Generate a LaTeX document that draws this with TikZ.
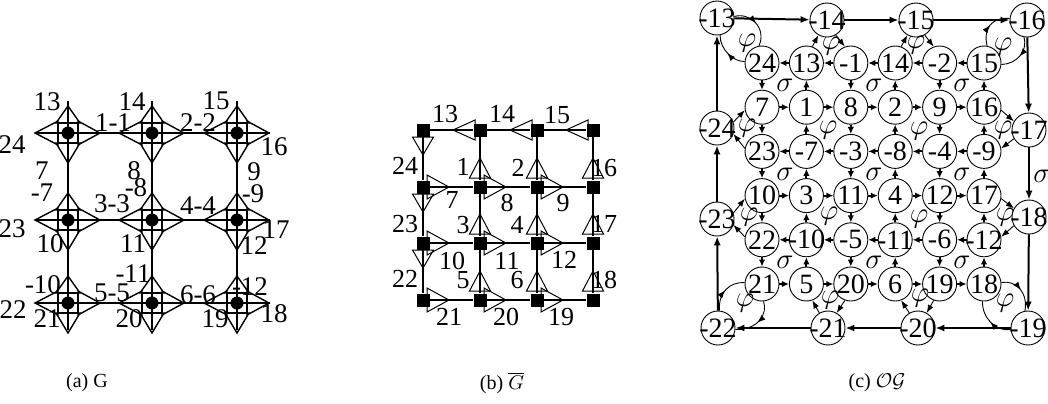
\documentclass[tikz,border=0pt]{standalone}
\usepackage{fontspec}
\setmainfont{Liberation Serif}
\usetikzlibrary{arrows.meta,decorations.markings}
\begin{document}
\begin{tikzpicture}[x=0.5pt,y=-0.5pt,
  lab/.style={inner sep=0pt, font=\fontsize{13.5}{15}\selectfont},
  labb/.style={inner sep=0pt, font=\fontsize{13}{15}\selectfont},
  capt/.style={inner sep=0pt, font=\fontsize{10}{12}\selectfont},
  edgeA/.style={line width=1pt},
  triA/.style={line width=0.7pt},
  vdot/.style={circle, fill=black, minimum size=6.5pt, inner sep=0pt},
  vbox/.style={draw, line width=0.7pt, minimum size=10pt, inner sep=0pt},
  sqB/.style={fill=black, minimum size=6.5pt, inner sep=0pt},
  thinB/.style={line width=0.55pt},
  thickB/.style={line width=1pt},
  triB/.style={line width=0.5pt},
  cn/.style={circle, draw, line width=0.45pt, minimum size=17pt, inner sep=0pt, font=\fontsize{14}{15}\selectfont},
  gar/.style={line width=1pt, -{Latex[length=3.5pt,width=3.2pt]}},
  rar/.style={line width=1pt, -{Latex[length=4.5pt,width=3.6pt]}},
  far/.style={line width=0.45pt, -{Latex[length=4pt,width=3pt]}},
  mar/.style={line width=0.45pt, postaction={decorate}, decoration={markings, mark=at position 0.5 with {\arrow{Latex[length=4pt,width=3pt]}}}},
  gl/.style={inner sep=0pt, font=\fontsize{14}{15}\selectfont},
]
\useasboundingbox (0,0) rectangle (1048,403);

% ---------------- panel (a) ----------------
\foreach \r/\y in {0/133,1/220,2/303} {
  \coordinate (aL\r) at (35,\y); \coordinate (aR\r) at (270,\y);
  \draw[edgeA] (aL\r) -- (aR\r);
}
\foreach \c/\x in {0/68,1/152,2/237} {
  \coordinate (aT\c) at (\x,101); \coordinate (aB\c) at (\x,330);
  \draw[edgeA] (aT\c) -- (aB\c);
}
\foreach \c/\x in {0/68,1/152,2/237} \foreach \r/\y in {0/133,1/220,2/303} {
  \node[vbox] (av\r\c) at (\x,\y) {};
  \node[vdot] (ad\r\c) at (\x,\y) {};
  \draw[triA] (\x-10,\y-12) -- (\x-33,\y) -- (\x-10,\y+12) -- cycle;
  \draw[triA] (\x+10,\y-12) -- (\x+32,\y) -- (\x+10,\y+12) -- cycle;
  \draw[triA] (\x-12,\y-10) -- (\x,\y-27) -- (\x+12,\y-10) -- cycle;
  \draw[triA] (\x-12,\y+10) -- (\x,\y+30) -- (\x+12,\y+10) -- cycle;
}
\foreach \t/\x/\y in {13/47/102,14/132/102,15/216/101,1-1/113/123,2-2/198/123,
  24/12/145,16/274/147,7/42/171,8/134/171,9/254/172,-8/136/188,-7/42/193,-9/253/194,
  3-3/112/204,4-4/198/206,23/12/229,17/276/230,10/50/244,11/133/244,12/254/246,
  -11/133/274,-10/43/285,5-5/112/293,6-6/198/295,-12/250/287,
  22/13/310,21/47/319,20/129/319,19/215/319,18/274/314}
  \node[lab] at (\x,\y) {\t};

% ---------------- panel (b) ----------------
\foreach \i/\x in {0/423,1/480,2/537,3/593} \foreach \j/\y in {0/130,1/187,2/243,3/300}
  \node[sqB] (b\i\j) at (\x,\y) {};
\foreach \j in {0,...,3} \foreach \i in {0,1,2} {
  \pgfmathtruncatemacro\k{\i+1}
  \ifnum\j=0\relax \draw[thinB] (b\i\j) -- (b\k\j); \else \draw[thickB] (b\i\j) -- (b\k\j); \fi
}
\foreach \i in {0,...,3} \foreach \j in {0,1,2} {
  \pgfmathtruncatemacro\k{\j+1}
  \draw[thinB] (b\i\j) -- (b\i\k);
}
\foreach \x in {480,537,593} \draw[triB] (\x-5,120) -- (\x-27,130) -- (\x-5,140) -- cycle;
\foreach \y in {130,187,243} \draw[triB] (412.5,\y+7) -- (423,\y+25) -- (433.5,\y+7) -- cycle;
\foreach \x in {423,480,537} \foreach \y in {187,243,300}
  \draw[triB] (\x+4,\y-12) -- (\x+26,\y) -- (\x+4,\y+12) -- cycle;
\foreach \x in {480,537,593} \foreach \y in {187,243,300}
  \draw[triB] (\x-10.5,\y-9) -- (\x,\y-29) -- (\x+10.5,\y-9) -- cycle;
\foreach \t/\x/\y in {13/445/114,14/502/114,15/557/115,
  24/405/166,1/463/167,2/518/168,16/604/168,7/452/200,8/507/203,9/563/203,
  23/405/224,3/463/225,4/517/225,17/604/224,10/452/261,11/507/261,12/564/260,
  22/405/279,5/463/280,6/517/280,18/604/280,21/449/317,20/506/317,19/561/317}
  \node[labb] at (\x,\y) {\t};

% ---------------- panel (c) ----------------
\foreach \r/\row in {0/{24,13,-1,14,-2,15},1/{7,1,8,2,9,16},2/{23,-7,-3,-8,-4,-9},
  3/{10,3,11,4,12,17},4/{22,-10,-5,-11,-6,-12},5/{21,5,20,6,19,18}}
  \foreach \t [count=\c from 0] in \row
    \node[cn] (g\r\c) at (762+44.4*\c,63+44.2*\r) {\makebox[0pt]{\t}};
\foreach \n/\x/\y in {13/717/18,14/827/20,15/916/20,16/1027/20,17/1029/130,18/1029/217,
  19/1028/328,20/918/328,21/828/328,22/718/328,23/717/219,24/717/128}
  \node[cn] (o\n) at (\x,\y) {\makebox[0pt]{-\n}};
% grid arrows
\foreach \r in {0,...,5} \foreach \c in {0,...,4} {
  \pgfmathtruncatemacro\cc{\c+1}
  \ifodd\r\relax \draw[gar] (g\r\c) -- (g\r\cc); \else \draw[gar] (g\r\cc) -- (g\r\c); \fi
}
\foreach \c in {0,...,5} \foreach \r in {0,...,4} {
  \pgfmathtruncatemacro\rr{\r+1}
  \ifodd\c\relax \draw[gar] (g\rr\c) -- (g\r\c); \else \draw[gar] (g\r\c) -- (g\rr\c); \fi
}
% ring
\foreach \a/\b in {13/14,14/15,15/16,16/17,17/18,18/19,19/20,20/21,21/22,22/23,23/24,24/13}
  \draw[rar] (o\a) -- (o\b);
% face arrows
\draw[far] (g01.70) -- (o14.-120); \draw[far] (o14.-60) -- (g02.110);
\draw[far] (g03.70) -- (o15.-120); \draw[far] (o15.-60) -- (g04.110);
\draw[far] (g15.-10) -- (o17.150); \draw[far] (o17.-150) -- (g25.10);
\draw[far] (g35.-10) -- (o18.150); \draw[far] (o18.-150) -- (g45.10);
\draw[far] (g52.-110) -- (o21.60); \draw[far] (o21.120) -- (g51.-70);
\draw[far] (g54.-110) -- (o20.60); \draw[far] (o20.120) -- (g53.-70);
\draw[far] (g20.170) -- (o24.-20); \draw[far] (o24.20) -- (g10.190);
\draw[far] (g40.170) -- (o23.-20); \draw[far] (o23.20) -- (g30.190);
% corner loops
\draw[mar] (o13.5) .. controls (750,12) and (767,28) .. (g00.100);
\draw[mar] (g00.175) .. controls (734,62) and (720,50) .. (o13.-80);
\draw[mar] (g05.80) .. controls (983,28) and (992,17) .. (o16.175);
\draw[mar] (o16.-100) .. controls (1028,52) and (1016,64) .. (g05.-5);
\draw[mar] (g55.5) .. controls (1016,280) and (1028,292) .. (o19.100);
\draw[mar] (o19.185) .. controls (996,332) and (982,318) .. (g55.-95);
\draw[mar] (o22.85) .. controls (718,292) and (730,282) .. (g50.175);
\draw[mar] (g50.-85) .. controls (768,314) and (758,330) .. (o22.-5);
% labels
\foreach \x/\y in {785/85,874/85,962/85,785/174,874/174,962/174,785/262,874/262,962/262,1042/176}
  \node[gl] at (\x,\y) {$\sigma$};
\foreach \x/\y in {828/130,919/131,829/216,919/219,831/46,916/45,747/43,1003/47,
  747/128,749/217,1003/130,1005/217,830/300,920/298,745/303,1005/303}
  \node[gl] at (\x,\y) {$\varphi$};

% captions
\node[capt] (ca) at (87,383) {(a) G};
\node[capt] (cb) at (502,383) {(b) $\overline{G}$};
\node[capt] (cc) at (877,383) {(c) $\mathcal{O}\mathcal{G}$};
\end{tikzpicture}
\end{document}
